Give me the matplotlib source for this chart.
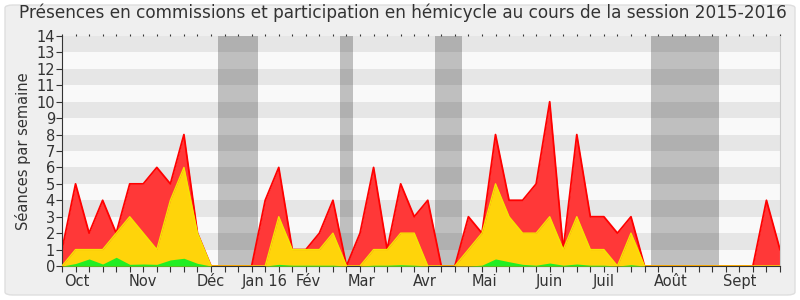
import numpy as np
import matplotlib
matplotlib.use("Agg")
import matplotlib.pyplot as plt
from matplotlib.patches import FancyBboxPatch

# weekly values, session 2015-2016 (week 0 = end of Sept 2015)
total = [1, 5, 2, 4, 2, 5, 5, 6, 5, 8, 2, 0, 0, 0, 0, 4, 6, 1, 1, 2, 4, 0,
         2, 6, 1, 5, 3, 4, 0, 0, 3, 2, 8, 4, 4, 5, 10, 1, 8, 3, 3, 2, 3,
         0, 0, 0, 0, 0, 0, 0, 0, 0, 4, 1]
hemicycle = [0, 1, 1, 1, 2, 3, 2, 1, 4, 6, 2, 0, 0, 0, 0, 0, 3, 1, 1, 1, 2, 0,
             0, 1, 1, 2, 2, 0, 0, 0, 1, 2, 5, 3, 2, 2, 3, 1, 3, 1, 1, 0, 2,
             0, 0, 0, 0, 0, 0, 0, 0, 0, 0, 0]
commissions = [0, 0.15, 0.43, 0.12, 0.53, 0.1, 0.12, 0.1, 0.37, 0.47, 0.16, 0,
               0, 0, 0, 0, 0.1, 0.05, 0.05, 0.05, 0.05, 0, 0, 0.05, 0.05, 0.08,
               0.05, 0, 0, 0, 0, 0.05, 0.43, 0.26, 0.1, 0.05, 0.18, 0.05, 0.12,
               0.05, 0.05, 0, 0.08, 0, 0, 0, 0, 0, 0, 0, 0, 0, 0, 0]
vacances = [(11.5, 14.5), (20.5, 21.5), (27.5, 29.5), (43.5, 48.5)]
mois = ["Oct", "Nov", "Déc", "Jan 16", "Fév", "Mar", "Avr", "Mai", "Juin",
        "Juil", "Août", "Sept"]
mois_pos = [1.1, 6.0, 10.95, 14.95, 18.2, 22.1, 26.8, 31.2, 35.95, 40.0,
            44.95, 50.0]

weeks = np.arange(len(total))

fig = plt.figure(figsize=(8, 3), dpi=100, facecolor="white")
fig.patches.append(FancyBboxPatch((5 / 800, 5 / 300), 790 / 800, 290 / 300,
                                  boxstyle="round,pad=0,rounding_size=0.01",
                                  transform=fig.transFigure, facecolor="#efefef",
                                  edgecolor="#dedede", linewidth=1, zorder=-10))
ax = fig.add_axes([62 / 800, 34 / 300, 718 / 800, 230 / 300])
ax.set_facecolor("#f9f9f9")

for a, b in vacances:
    ax.axvspan(a, b, color="#bfbfbf", lw=0, zorder=0.5)
for i in range(1, 14, 2):
    ax.axhspan(i, i + 1, color="black", alpha=0.075, lw=0, zorder=1)

ax.fill_between(weeks, total, color="#ff3838", lw=0, zorder=2)
ax.plot(weeks, total, color="#ff0000", lw=1.3, zorder=2.1)
ax.fill_between(weeks, hemicycle, color="#ffd40a", lw=0, zorder=3)
ax.plot(weeks, hemicycle, color="#f5e600", lw=1.0, zorder=3.1)
ax.fill_between(weeks, commissions, color="#22ee22", lw=0, zorder=4)

ax.set_xlim(0, 53)
ax.set_ylim(0, 14)
ax.set_yticks(range(15))
ax.set_xticks(weeks)
ax.set_xticklabels([])
for p, m in zip(mois_pos, mois):
    ax.text(p, -0.035, m, transform=ax.get_xaxis_transform(), ha="center",
            va="top", fontsize=10.5, color="#333333")
ax.tick_params(axis="x", which="major", direction="out", length=4,
               color="#333333", top=True)
# short dotted marks along the top edge
for t in ax.xaxis.get_major_ticks():
    t.tick2line.set_markersize(1.5)
ax.tick_params(axis="y", direction="out", length=4, color="#333333",
               labelsize=10.5, labelcolor="#333333", pad=1)

ax.spines["top"].set_visible(False)
ax.spines["right"].set_color("#cccccc")
ax.spines["left"].set_color("#333333")
ax.spines["bottom"].set_color("#333333")

ax.set_ylabel("Séances par semaine", fontsize=10.5, color="#333333", labelpad=4)
fig.text(0.503, 0.957, "Présences en commissions et participation en hémicycle "
         "au cours de la session 2015-2016", ha="center", va="center",
         fontsize=12.2, color="#333333")

fig.savefig("out.png", dpi=100, facecolor=fig.get_facecolor())
